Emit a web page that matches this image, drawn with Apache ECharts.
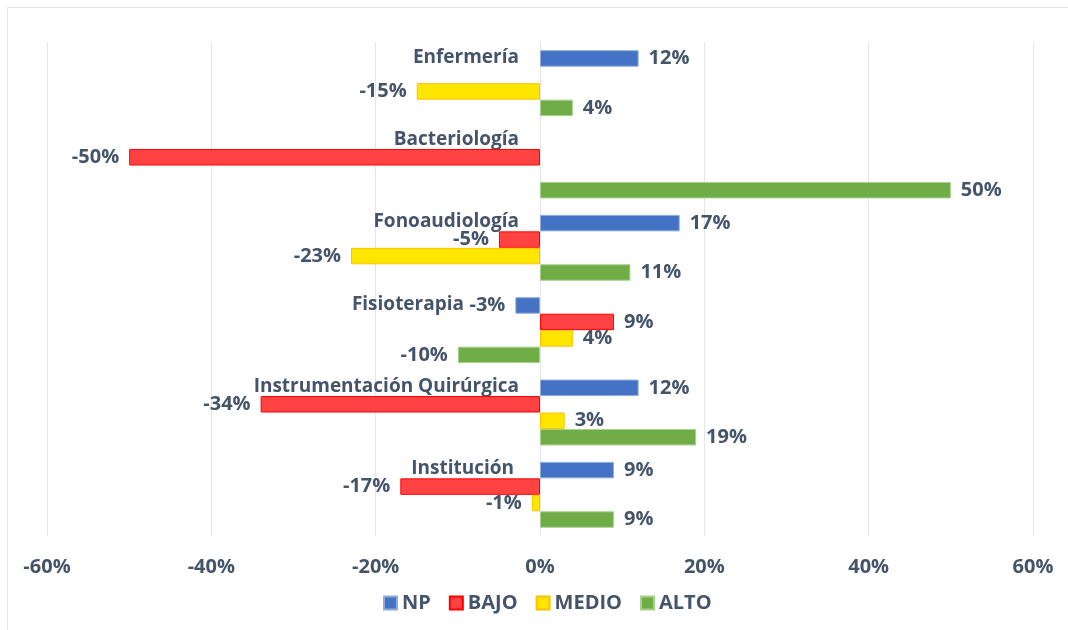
<!DOCTYPE html>
<html>
<head>
<meta charset="utf-8">
<script src="https://cdn.jsdelivr.net/npm/echarts@6/dist/echarts.min.js"></script>
<style>
  html, body { margin: 0; padding: 0; background: #fff; }
  #chart { width: 1068px; height: 630px; }
</style>
</head>
<body>
<div id="chart"></div>
<script>
const categories = ["Enfermería", "Bacteriología", "Fonoaudiología", "Fisioterapia", "Instrumentación Quirúrgica", "Institución"];
const seriesNames = ["NP", "BAJO", "MEDIO", "ALTO"];
// null = no bar in the original
const npValues = [12, null, 17, -3, 12, 9];
const bajoValues = [null, -50, -5, 9, -34, -17];
const medioValues = [-15, null, -23, 4, 3, -1];
const altoValues = [4, 50, 11, -10, 19, 9];
const xTicks = [-60, -40, -20, 0, 20, 40, 60];

const textColor = "#44546A";
const font = "'Open Sans', 'Noto Sans', sans-serif";
const colors = ["#4472C4", "#FF4343", "#FFE600", "#70AD47"];
const borders = ["#8faadc", "#FF0000", "#FFC000", "#a9d18e"];

function toItems(values) {
  return values.map((v) => {
    if (v === null) return "-";
    return { value: v, label: { position: v < 0 ? "left" : "right" } };
  });
}

const chart = echarts.init(document.getElementById("chart"));
const allValues = [npValues, bajoValues, medioValues, altoValues];

// grid is 47..1033 wide, so x=0 sits 493px right of the left edge
const gridLeft = 47, gridRight = 35;
const zeroShift = (1068 - gridLeft - gridRight) / 2;

chart.setOption({
  backgroundColor: "#fff",
  textStyle: { fontFamily: font },
  graphic: [
    {
      type: "rect",
      shape: { x: 7.5, y: 7.5, width: 1200, height: 800 },
      style: { fill: "none", stroke: "#dfe3ea", lineWidth: 1 },
      silent: true,
    },
  ],
  legend: {
    bottom: 12,
    left: 378,
    icon: "rect",
    itemWidth: 13,
    itemHeight: 13,
    itemGap: 18,
    textStyle: { color: textColor, fontSize: 20, fontWeight: "bold", fontFamily: font },
    data: seriesNames,
  },
  grid: { left: gridLeft, right: gridRight, top: 42, bottom: 94, containLabel: false, outerBoundsMode: "none" },
  xAxis: {
    type: "value",
    min: xTicks[0],
    max: xTicks[xTicks.length - 1],
    interval: 20,
    axisLine: { show: false },
    axisTick: { show: false },
    splitLine: { lineStyle: { color: "#e1e5ec", width: 1 } },
    axisLabel: {
      color: textColor,
      fontSize: 20,
      fontWeight: "bold",
      margin: 21,
      formatter: "{value}%",
    },
  },
  yAxis: {
    type: "category",
    data: categories,
    inverse: true,
    offset: -zeroShift,
    axisLine: { show: true, onZero: false, lineStyle: { color: "#e1e5ec", width: 1 } },
    axisTick: { show: false },
    axisLabel: {
      color: textColor,
      fontSize: 19,
      fontWeight: "bold",
      margin: 21,
      verticalAlign: "middle",
      formatter: (v) => (v === "Fisioterapia" ? "{fis|" + v + "}" : v === "Institución" ? "{ins|" + v + "}" : v),
      padding: [0, 0, 52, 0],
      rich: {
        fis: { color: textColor, fontSize: 19, fontWeight: "bold", padding: [0, 55, 0, 0] },
        ins: { color: textColor, fontSize: 19, fontWeight: "bold", padding: [0, 5, 0, 0] },
      },
    },
  },
  series: seriesNames.map((name, i) => ({
    name,
    type: "bar",
    data: toItems(allValues[i]),
    barGap: "0%",
    barCategoryGap: "20%",
    itemStyle: { color: colors[i], borderColor: borders[i], borderWidth: 1 },
    label: {
      show: true,
      distance: 10,
      color: textColor,
      fontSize: 20,
      fontWeight: "bold",
      formatter: (p) => p.value + "%",
    },
  })),
});
</script>
</body>
</html>
